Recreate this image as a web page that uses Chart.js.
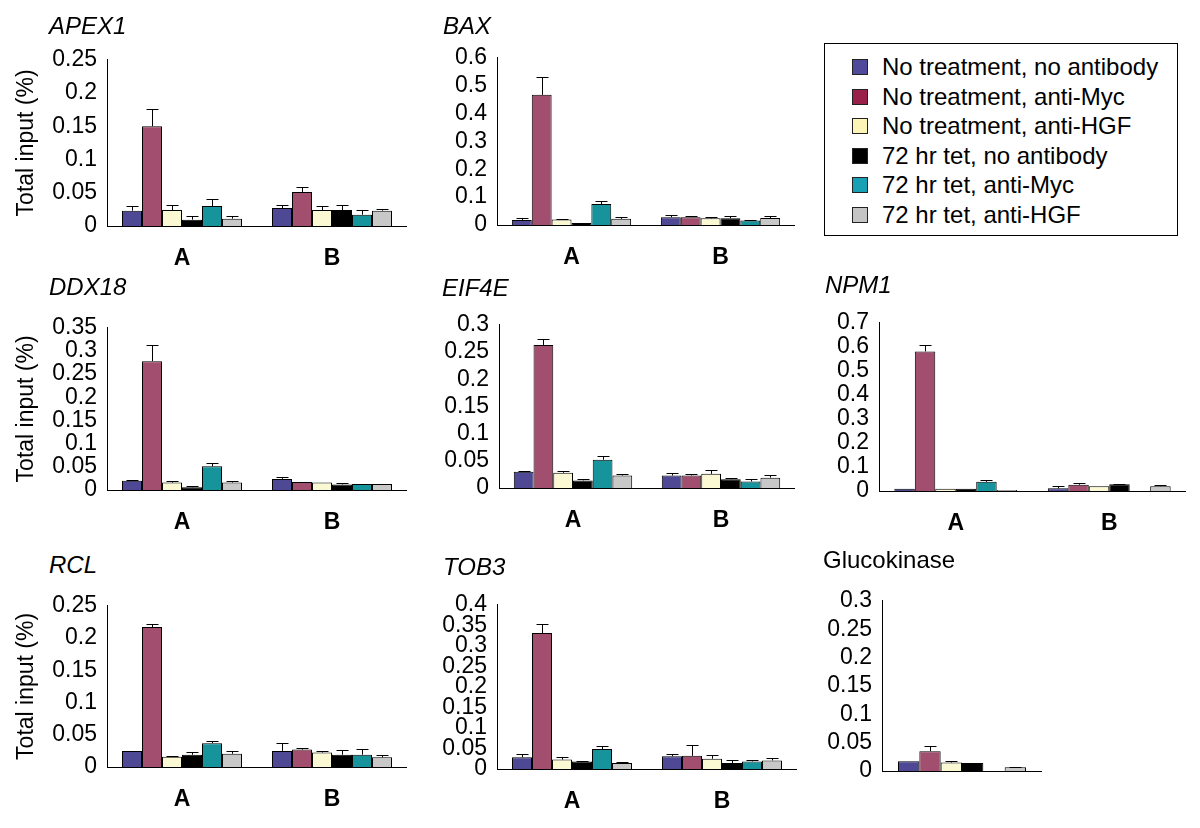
<!DOCTYPE html>
<html>
<head>
<meta charset="utf-8">
<script src="https://cdn.jsdelivr.net/npm/chart.js@4.4.1/dist/chart.umd.min.js"></script>
<style>
  body { margin: 0; background: #fff; width: 1200px; height: 828px; position: relative; overflow: hidden;
         font-family: "Liberation Sans", Arial, sans-serif; color: #000; }
  canvas { position: absolute; }
  .gene { position: absolute; font-size: 24px; line-height: 24px; font-style: italic; white-space: nowrap; }
  #legend { position: absolute; left: 824px; top: 43px; width: 352px; height: 191px; border: 1px solid #000; }
  .sw { position: absolute; left: 27px; width: 14px; height: 14px; border: 1px solid #222; }
  .lt { position: absolute; left: 57px; font-size: 24px; line-height: 26px; white-space: nowrap; }
</style>
</head>
<body>
<div id="legend"></div>
<script>
const FONT = '"Liberation Sans", Arial, sans-serif';

const conditions = [
  'No treatment, no antibody',
  'No treatment, anti-Myc',
  'No treatment, anti-HGF',
  '72 hr tet, no antibody',
  '72 hr tet, anti-Myc',
  '72 hr tet, anti-HGF'
];
const groups = ['A', 'B'];
const barColors = ['#4e4895', '#a24e6e', '#fbf8d4', '#000000', '#17949b', '#c8c8c8'];
const legendColors = ['#4f4a9a', '#9b2049', '#fdf4b8', '#000000', '#18a0b4', '#c4c4c4'];

// means (% of total input) and upper error, one value per condition
const apex1A = [0.023, 0.150, 0.024, 0.0095, 0.030, 0.011];
const apex1B = [0.027, 0.051, 0.024, 0.024, 0.017, 0.023];
const apex1ErrA = [0.007, 0.026, 0.007, 0.006, 0.011, 0.004];
const apex1ErrB = [0.004, 0.007, 0.006, 0.007, 0.007, 0.002];

const baxA = [0.018, 0.467, 0.020, 0.007, 0.075, 0.022];
const baxB = [0.028, 0.028, 0.024, 0.024, 0.016, 0.025];
const baxErrA = [0.006, 0.065, 0.002, 0, 0.011, 0.005];
const baxErrB = [0.007, 0.004, 0.003, 0.008, 0.003, 0.007];

const ddx18A = [0.020, 0.278, 0.016, 0.006, 0.051, 0.016];
const ddx18B = [0.024, 0.017, 0.016, 0.012, 0.013, 0.013];
const ddx18ErrA = [0.002, 0.034, 0.004, 0.0035, 0.008, 0.004];
const ddx18ErrB = [0.004, 0, 0, 0.004, 0, 0];

const eif4eA = [0.030, 0.263, 0.028, 0.014, 0.052, 0.023];
const eif4eB = [0.023, 0.023, 0.026, 0.016, 0.012, 0.019];
const eif4eErrA = [0.001, 0.010, 0.003, 0.002, 0.006, 0.003];
const eif4eErrB = [0.005, 0.003, 0.007, 0.002, 0.005, 0.004];

const npm1A = [0.009, 0.581, 0.009, 0.009, 0.038, 0.004];
const npm1B = [0.011, 0.026, 0.020, 0.028, null, 0.020];
const npm1ErrA = [0, 0.028, 0, 0, 0.006, 0];
const npm1ErrB = [0.008, 0.006, 0, 0.002, 0, 0.005];

const rclA = [0.025, 0.217, 0.016, 0.019, 0.037, 0.0205];
const rclB = [0.025, 0.027, 0.0225, 0.019, 0.019, 0.015];
const rclErrA = [0, 0.004, 0.001, 0.005, 0.004, 0.0045];
const rclErrB = [0.012, 0.002, 0.0025, 0.008, 0.009, 0.003];

const tob3A = [0.0285, 0.331, 0.023, 0.018, 0.0485, 0.0146];
const tob3B = [0.031, 0.032, 0.025, 0.0146, 0.0185, 0.021];
const tob3ErrA = [0.0075, 0.022, 0.007, 0.002, 0.0075, 0.003];
const tob3ErrB = [0.005, 0.026, 0.009, 0.007, 0.0025, 0.007];

const glucoA = [0.017, 0.035, 0.015, 0.014, null, 0.0067];
const glucoErrA = [0, 0.0085, 0.0035, 0, 0, 0.001];

// axis scales per panel
const panels = [
  { name: 'APEX1', italic: true, labels: groups, means: [apex1A, apex1B], errs: [apex1ErrA, apex1ErrB], max: 0.25, step: 0.05, yTitle: true,
    axisX: 107, topY: 51, zeroY: 226, endX: 407, tx: 49, ty: 26 },
  { name: 'BAX', italic: true, labels: groups, means: [baxA, baxB], errs: [baxErrA, baxErrB], max: 0.6, step: 0.1,
    axisX: 497, topY: 49, zeroY: 225, endX: 795, tx: 443, ty: 26 },
  { name: 'DDX18', italic: true, labels: groups, means: [ddx18A, ddx18B], errs: [ddx18ErrA, ddx18ErrB], max: 0.35, step: 0.05, yTitle: true,
    axisX: 107, topY: 319, zeroY: 490, endX: 407, tx: 49, ty: 287 },
  { name: 'EIF4E', italic: true, labels: groups, means: [eif4eA, eif4eB], errs: [eif4eErrA, eif4eErrB], max: 0.3, step: 0.05,
    axisX: 499, topY: 316, zeroY: 488, endX: 795, tx: 442, ty: 288 },
  { name: 'NPM1', italic: true, labels: groups, means: [npm1A, npm1B], errs: [npm1ErrA, npm1ErrB], max: 0.7, step: 0.1,
    axisX: 879, topY: 314, zeroY: 491, endX: 1186, tx: 825, ty: 285 },
  { name: 'RCL', italic: true, labels: groups, means: [rclA, rclB], errs: [rclErrA, rclErrB], max: 0.25, step: 0.05, yTitle: true,
    axisX: 107, topY: 597, zeroY: 767, endX: 407, tx: 49, ty: 565 },
  { name: 'TOB3', italic: true, labels: groups, means: [tob3A, tob3B], errs: [tob3ErrA, tob3ErrB], max: 0.4, step: 0.05,
    axisX: 497, topY: 596, zeroY: 769, endX: 797, tx: 443, ty: 567 },
  { name: 'Glucokinase', italic: false, labels: [''], means: [glucoA], errs: [glucoErrA], max: 0.3, step: 0.05,
    axisX: 882, topY: 592, zeroY: 771, endX: 1042, tx: 823, ty: 560 }
];

// upper-only error bars
const errorBarPlugin = {
  id: 'errorBars',
  afterDatasetsDraw(chart) {
    const ctx = chart.ctx;
    const y = chart.scales.y;
    ctx.save();
    ctx.strokeStyle = '#000';
    ctx.lineWidth = 1;
    chart.data.datasets.forEach((ds, di) => {
      const meta = chart.getDatasetMeta(di);
      meta.data.forEach((bar, i) => {
        const e = ds.errors[i];
        if (!e || ds.data[i] == null) return;
        const top = Math.round(y.getPixelForValue(ds.data[i] + e)) + 0.5;
        const x = Math.round(bar.x) + 0.5;
        ctx.beginPath();
        ctx.moveTo(x, bar.y);
        ctx.lineTo(x, top);
        ctx.moveTo(x - 6, top);
        ctx.lineTo(x + 6, top);
        ctx.stroke();
      });
    });
    ctx.restore();
  }
};

const Y_BOX = 107, X_BOX = 48, PAD_TOP = 15;

panels.forEach(p => {
  const L = p.axisX - Y_BOX, T = p.topY - PAD_TOP;
  const W = p.endX - L, H = p.zeroY - T + X_BOX;
  const cv = document.createElement('canvas');
  cv.width = W; cv.height = H;
  cv.style.left = L + 'px'; cv.style.top = T + 'px';
  document.body.appendChild(cv);

  const title = document.createElement('div');
  title.className = 'gene';
  title.textContent = p.name;
  title.style.left = p.tx + 'px';
  title.style.top = (p.ty - 12) + 'px';
  if (!p.italic) title.style.fontStyle = 'normal';
  document.body.appendChild(title);

  new Chart(cv, {
    type: 'bar',
    data: {
      labels: p.labels,
      datasets: conditions.map((c, i) => ({
        label: c,
        data: p.means.map(g => g[i]),
        errors: p.errs.map(g => g[i]),
        backgroundColor: barColors[i],
        borderColor: '#000',
        borderWidth: 1,
        categoryPercentage: 0.8,
        barPercentage: 1
      }))
    },
    options: {
      responsive: false,
      animation: false,
      devicePixelRatio: 1,
      layout: { padding: { top: PAD_TOP, left: 0, right: 0, bottom: 0 } },
      plugins: { legend: { display: false }, tooltip: { enabled: false } },
      scales: {
        x: {
          grid: { display: false, drawTicks: false },
          border: { display: true, color: '#000', width: 1 },
          ticks: { color: '#000', padding: 19, font: { family: FONT, size: 23, weight: 'bold' } },
          afterFit(s) { s.height = X_BOX; }
        },
        y: {
          min: 0, max: p.max,
          grid: { display: false, drawTicks: false },
          border: { display: true, color: '#000', width: 1 },
          ticks: {
            stepSize: p.step, color: '#000', padding: 10, autoSkip: false,
            font: { family: FONT, size: 23 },
            callback: v => String(+v.toFixed(3))
          },
          title: {
            display: !!p.yTitle, text: 'Total input (%)', color: '#000',
            font: { family: FONT, size: 23 }, padding: { top: 13, bottom: 0 }
          },
          afterFit(s) { s.width = Y_BOX; }
        }
      }
    },
    plugins: [errorBarPlugin]
  });
});

// legend box
const legend = document.getElementById('legend');
conditions.forEach((c, i) => {
  const cy = 23 + i * 29.6;
  const sw = document.createElement('div');
  sw.className = 'sw';
  sw.style.top = (cy - 8) + 'px';
  sw.style.background = legendColors[i];
  legend.appendChild(sw);
  const t = document.createElement('div');
  t.className = 'lt';
  t.style.top = (cy - 13) + 'px';
  t.textContent = c;
  legend.appendChild(t);
});
</script>
</body>
</html>
